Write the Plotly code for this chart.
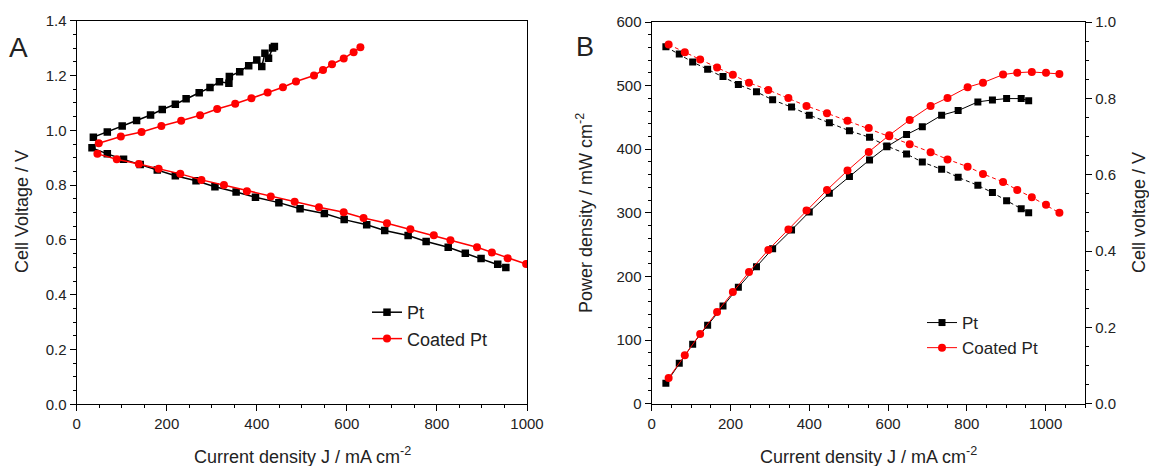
import plotly.graph_objects as go

# ---------------- Panel A data ----------------
a_pt_up_j = [37, 68, 101, 133, 164, 190, 219, 243, 272, 296, 317, 338, 339, 362, 382, 400, 411, 418, 426, 435, 439]
a_pt_up_v = [0.975, 0.994, 1.016, 1.036, 1.056, 1.076, 1.095, 1.115, 1.137, 1.156, 1.177, 1.172, 1.196,
             1.214, 1.236, 1.257, 1.233, 1.281, 1.263, 1.300, 1.306]
a_pt_lo_j = [34, 68, 104, 141, 179, 219, 265, 307, 354, 397, 449, 496, 550, 594, 644, 684, 736, 776, 825, 863, 898, 935, 953]
a_pt_lo_v = [0.936, 0.914, 0.894, 0.875, 0.855, 0.834, 0.816, 0.794, 0.775, 0.756, 0.736, 0.714, 0.696,
             0.674, 0.655, 0.634, 0.616, 0.594, 0.573, 0.551, 0.532, 0.511, 0.499]
a_co_up_j = [49, 98, 144, 188, 232, 274, 312, 352, 388, 424, 458, 487, 527, 547, 567, 593, 615, 630]
a_co_up_v = [0.953, 0.977, 0.994, 1.016, 1.035, 1.055, 1.078, 1.097, 1.117, 1.138, 1.157, 1.178, 1.200,
             1.220, 1.241, 1.262, 1.285, 1.303]
a_co_lo_j = [46, 89, 138, 182, 230, 277, 327, 378, 431, 484, 538, 593, 637, 689, 741, 793, 830, 889, 922, 957, 998]
a_co_lo_v = [0.914, 0.894, 0.877, 0.860, 0.841, 0.819, 0.800, 0.778, 0.758, 0.739, 0.719, 0.701, 0.680,
             0.661, 0.639, 0.617, 0.599, 0.573, 0.554, 0.533, 0.512]

# ---------------- Panel B data ----------------
b_pt_j = [36, 70, 104, 142, 181, 220, 266, 307, 355, 400, 451, 502, 553, 597, 647, 687, 736, 778, 828, 865, 901, 938, 957]
b_pt_p = [32, 63.5, 93.4, 123.3, 153.6, 183, 215.4, 243.7, 273, 301.4, 330.8, 357, 383.2, 404, 423, 435.5,
          453.5, 460.7, 474.4, 477.5, 479.6, 479.6, 476.4]
b_pt_v = [0.935, 0.916, 0.895, 0.876, 0.857, 0.836, 0.817, 0.796, 0.777, 0.756, 0.736, 0.715, 0.698, 0.675,
          0.654, 0.633, 0.614, 0.593, 0.572, 0.553, 0.532, 0.511, 0.500]
b_co_j = [43, 84, 123, 166, 206, 247, 296, 347, 393, 445, 497, 551, 603, 655, 708, 751, 802, 841, 892, 928, 965, 1001, 1035]
b_co_p = [40.4, 76, 109.6, 144.2, 175.6, 207, 241.7, 274, 303.5, 336, 366.4, 395.8, 422, 446, 468, 480.7,
          497.5, 504.7, 517.3, 520.4, 521.5, 520.4, 518.4]
b_co_v = [0.941, 0.921, 0.902, 0.881, 0.862, 0.841, 0.822, 0.801, 0.780, 0.761, 0.741, 0.722, 0.701, 0.680,
          0.659, 0.640, 0.621, 0.602, 0.581, 0.560, 0.541, 0.521, 0.500]

W, H = 1149, 466
def px(x):
    return x / W
def py(y):
    return 1 - y / H

BLACK = "#000000"
RED = "#ff0000"
FONT = "Liberation Sans, Arial, sans-serif"

fig = go.Figure()

# Panel A
fig.add_trace(go.Scatter(x=a_pt_lo_j, y=a_pt_lo_v, mode="lines+markers", name="Pt",
                         line=dict(color=BLACK, width=1.5),
                         marker=dict(symbol="square", size=7.5, color=BLACK),
                         xaxis="x", yaxis="y", legend="legend"))
fig.add_trace(go.Scatter(x=a_co_lo_j, y=a_co_lo_v, mode="lines+markers", name="Coated Pt",
                         line=dict(color=RED, width=1.5),
                         marker=dict(symbol="circle", size=8, color=RED),
                         xaxis="x", yaxis="y", legend="legend"))
fig.add_trace(go.Scatter(x=a_pt_up_j, y=a_pt_up_v, mode="lines+markers", name="Pt", showlegend=False,
                         line=dict(color=BLACK, width=1.5),
                         marker=dict(symbol="square", size=7.5, color=BLACK),
                         xaxis="x", yaxis="y"))
fig.add_trace(go.Scatter(x=a_co_up_j, y=a_co_up_v, mode="lines+markers", name="Coated Pt", showlegend=False,
                         line=dict(color=RED, width=1.5),
                         marker=dict(symbol="circle", size=8, color=RED),
                         xaxis="x", yaxis="y"))

# Panel B
fig.add_trace(go.Scatter(x=b_pt_j, y=b_pt_p, mode="lines+markers", name="Pt",
                         line=dict(color=BLACK, width=1),
                         marker=dict(symbol="square", size=7, color=BLACK),
                         xaxis="x2", yaxis="y2", legend="legend2"))
fig.add_trace(go.Scatter(x=b_co_j, y=b_co_p, mode="lines+markers", name="Coated Pt",
                         line=dict(color=RED, width=1),
                         marker=dict(symbol="circle", size=8, color=RED),
                         xaxis="x2", yaxis="y2", legend="legend2"))
fig.add_trace(go.Scatter(x=b_pt_j, y=b_pt_v, mode="lines+markers", name="Pt", showlegend=False,
                         line=dict(color=BLACK, width=1, dash="4px,3px"),
                         marker=dict(symbol="square", size=7, color=BLACK),
                         xaxis="x2", yaxis="y3"))
fig.add_trace(go.Scatter(x=b_co_j, y=b_co_v, mode="lines+markers", name="Coated Pt", showlegend=False,
                         line=dict(color=RED, width=1, dash="4px,3px"),
                         marker=dict(symbol="circle", size=8, color=RED),
                         xaxis="x2", yaxis="y3"))

tickfont = dict(family=FONT, size=15, color="#222222")
common = dict(showgrid=False, zeroline=False, showline=True, linecolor=BLACK, linewidth=1.3,
              ticks="outside", ticklen=6, tickwidth=1.3, tickcolor=BLACK, tickfont=tickfont,
              automargin=False)

fig.update_layout(
    template="none",
    width=W, height=H, margin=dict(l=0, r=0, t=0, b=0, pad=0), autosize=False,
    paper_bgcolor="white", plot_bgcolor="white",
    font=dict(family=FONT, color="#222222"),
    xaxis=dict(domain=[px(76.7), px(527)], range=[0, 1000], dtick=200, tick0=0, anchor="y", mirror=True,
               minor=dict(dtick=50, ticklen=3, ticks="outside", tickcolor=BLACK, tickwidth=1.3), **common),
    yaxis=dict(domain=[py(404.3), py(20.7)], range=[0, 1.4], dtick=0.2, tick0=0, tickformat=".1f",
               anchor="x", mirror=True,
               minor=dict(dtick=0.05, ticklen=3, ticks="outside", tickcolor=BLACK, tickwidth=1.3), **common),
    xaxis2=dict(domain=[px(651.7), px(1085)], range=[0, 1100], dtick=200, tick0=0, anchor="y2", mirror=True,
                minor=dict(dtick=50, ticklen=3, ticks="outside", tickcolor=BLACK, tickwidth=1.3), **common),
    yaxis2=dict(domain=[py(403.7), py(22)], range=[0, 600], dtick=100, tick0=0, anchor="x2",
                minor=dict(dtick=20, ticklen=3, ticks="outside", tickcolor=BLACK, tickwidth=1.3), **common),
    yaxis3=dict(range=[0, 1.0], dtick=0.2, tick0=0, tickformat=".1f", anchor="x2", overlaying="y2",
                side="right",
                minor=dict(dtick=0.05, ticklen=3, ticks="outside", tickcolor=BLACK, tickwidth=1.3), **common),
    legend=dict(x=px(367), y=py(294), xanchor="left", yanchor="top", bgcolor="rgba(0,0,0,0)",
                font=dict(family=FONT, size=18, color="#222222"), tracegroupgap=0),
    legend2=dict(x=px(922), y=py(305), xanchor="left", yanchor="top", bgcolor="rgba(0,0,0,0)",
                 font=dict(family=FONT, size=17, color="#222222"), tracegroupgap=0),
)

ann_font = dict(family=FONT, size=18, color="#222222")
annotations = [
    dict(text="A", x=px(18.5), y=py(47), font=dict(family=FONT, size=28, color="#222222")),
    dict(text="B", x=px(585), y=py(47), font=dict(family=FONT, size=27, color="#222222")),
    dict(text="Current density J / mA cm<sup>-2</sup>", x=px(302), y=py(455), font=ann_font),
    dict(text="Current density J / mA cm<sup>-2</sup>", x=px(868), y=py(455), font=ann_font),
    dict(text="Cell Voltage / V", x=px(22), y=py(212), textangle=-90, font=ann_font),
    dict(text="Power density / mW cm<sup>-2</sup>", x=px(584), y=py(213), textangle=-90, font=ann_font),
    dict(text="Cell voltage / V", x=px(1139), y=py(213), textangle=-90, font=ann_font),
]
for a in annotations:
    a.update(xref="paper", yref="paper", showarrow=False, xanchor="center", yanchor="middle")
fig.update_layout(annotations=annotations)

fig.write_html("out.html", config={"displayModeBar": False},
               post_script="document.body.style.margin='0';document.body.style.padding='0';"
                           "document.body.style.overflow='hidden';")
